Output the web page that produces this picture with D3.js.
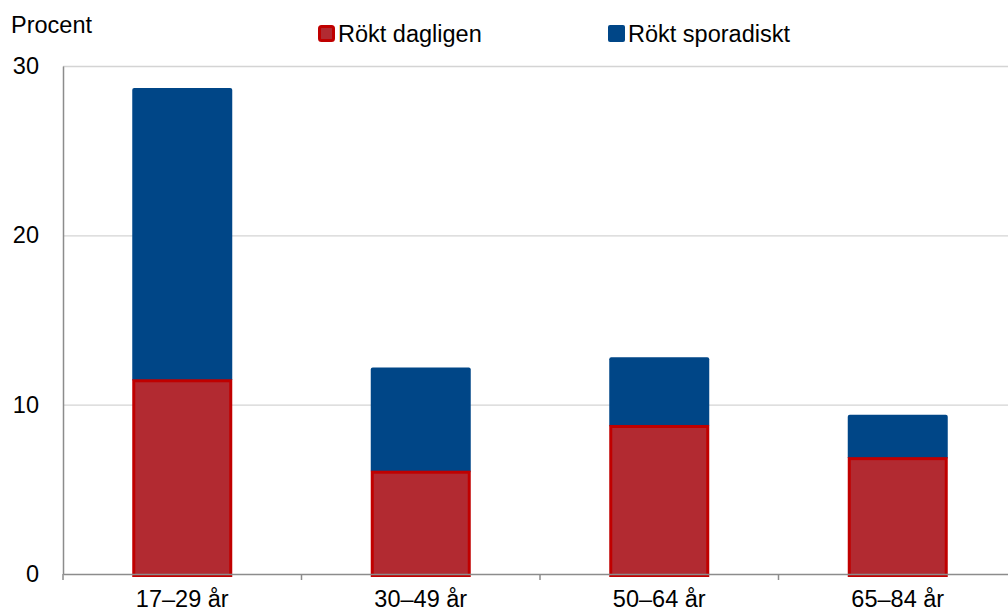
<!DOCTYPE html>
<html>
<head>
<meta charset="utf-8">
<script src="https://cdn.jsdelivr.net/npm/d3@7"></script>
<style>
  body { margin: 0; background: #fff; }
  svg { display: block; font-family: 'Liberation Sans', Arial, sans-serif; }
</style>
</head>
<body>
<div id="chart"></div>
<script>
let width = 1008
let height = 612

const categories = ['17–29 år', '30–49 år', '50–64 år', '65–84 år']
const dagligen = [11.5, 6.1, 8.8, 6.9]
const sporadiskt = [17.2, 6.1, 4.0, 2.5]
const yTicks = [0, 10, 20, 30]
const seriesNames = ['Rökt dagligen', 'Rökt sporadiskt']

const redFill = '#b22a31'
const redEdge = '#c00000'
const blue = '#004687'
const fontSize = '23.5px'

let plotLeft = 63, plotTop = 66, plotBottom = 574, plotRight = 1017

let svg = d3.select('#chart')
            .append('svg')
            .attr('width', width)
            .attr('height', height)

let xScale = d3.scaleBand()
            .domain(categories)
            .range([plotLeft, plotRight])
            .paddingInner(0)
            .paddingOuter(0)

let yScale = d3.scaleLinear()
            .domain([0, 30])
            .range([plotBottom, plotTop])

// grid
svg.selectAll('.grid')
    .data(yTicks.filter(d => d > 0))
    .enter()
    .append('line')
    .attr('x1', plotLeft)
    .attr('x2', plotRight)
    .attr('y1', d => yScale(d) + 0.5)
    .attr('y2', d => yScale(d) + 0.5)
    .attr('stroke', '#d4d4d4')
    .attr('stroke-width', 1.3)

let barW = 100
let bars = categories.map((c, i) => ({cat: c, d: dagligen[i], s: sporadiskt[i]}))

// sporadic (blue, on top)
svg.selectAll('.spor')
    .data(bars)
    .enter()
    .append('rect')
    .attr('x', d => xScale(d.cat) + xScale.bandwidth() / 2 - barW / 2)
    .attr('y', d => yScale(d.d + d.s))
    .attr('width', barW)
    .attr('height', d => yScale(d.d) - yScale(d.d + d.s) + 2)
    .attr('rx', 2)
    .attr('fill', blue)

// daily (red)
svg.selectAll('.dagl')
    .data(bars)
    .enter()
    .append('rect')
    .attr('x', d => xScale(d.cat) + xScale.bandwidth() / 2 - barW / 2 + 1.5)
    .attr('y', d => yScale(d.d) + 1.5)
    .attr('width', barW - 3)
    .attr('height', d => yScale(0) - yScale(d.d))
    .attr('fill', redFill)
    .attr('stroke', redEdge)
    .attr('stroke-width', 3)

// y axis
let yAxis = svg.append('g')
    .attr('transform', 'translate(' + plotLeft + ',0)')
    .call(d3.axisLeft(yScale).tickValues(yTicks).tickSize(0).tickPadding(24))
yAxis.select('.domain').attr('stroke', '#8c8c8c').attr('stroke-width', 1.5)
yAxis.selectAll('text')
    .style('font-size', fontSize)
    .style('font-family', 'Liberation Sans, Arial, sans-serif')
    .attr('fill', '#000')

// x axis
let xAxis = svg.append('g')
    .attr('transform', 'translate(0,' + plotBottom + ')')
    .call(d3.axisBottom(xScale).tickSize(0).tickFormat(''))
xAxis.select('.domain').attr('stroke', '#8c8c8c').attr('stroke-width', 1.5)

svg.selectAll('.xtick')
    .data(categories.map((c, i) => plotLeft + i * xScale.bandwidth()).concat([plotRight]))
    .enter()
    .append('line')
    .attr('x1', d => d)
    .attr('x2', d => d)
    .attr('y1', plotBottom)
    .attr('y2', plotBottom + 6)
    .attr('stroke', '#8c8c8c')
    .attr('stroke-width', 1.5)

svg.selectAll('.xlab')
    .data(categories)
    .enter()
    .append('text')
    .attr('x', d => xScale(d) + xScale.bandwidth() / 2)
    .attr('y', 607)
    .attr('text-anchor', 'middle')
    .style('font-size', fontSize)
    .text(d => d)

svg.append('text')
    .attr('x', 11)
    .attr('y', 33)
    .style('font-size', fontSize)
    .text('Procent')

// legend
let legendX = [318, 608]
let legend = svg.selectAll('.legend')
    .data(seriesNames)
    .enter()
    .append('g')
    .attr('transform', (d, i) => 'translate(' + legendX[i] + ',25)')

legend.append('rect')
    .attr('x', (d, i) => i === 0 ? 1.5 : 0)
    .attr('y', (d, i) => i === 0 ? 1.5 : 0)
    .attr('width', (d, i) => i === 0 ? 14 : 17)
    .attr('height', (d, i) => i === 0 ? 14 : 17)
    .attr('rx', 2)
    .attr('fill', (d, i) => i === 0 ? redFill : blue)
    .attr('stroke', (d, i) => i === 0 ? redEdge : blue)
    .attr('stroke-width', (d, i) => i === 0 ? 3 : 0)

legend.append('text')
    .attr('x', 20)
    .attr('y', 17)
    .style('font-size', fontSize)
    .text(d => d)
</script>
</body>
</html>
